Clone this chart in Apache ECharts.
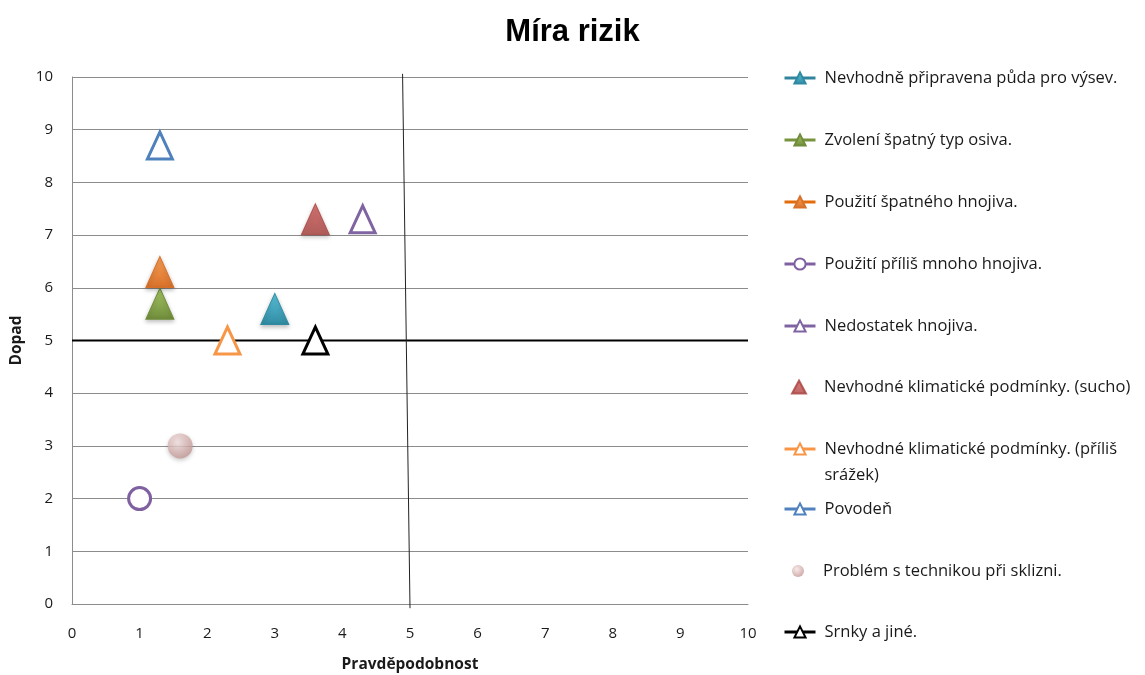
<!DOCTYPE html>
<html><head><meta charset="utf-8">
<script src="https://cdn.jsdelivr.net/npm/echarts@6/dist/echarts.min.js"></script>
<style>html,body{margin:0;padding:0;background:#fff}#c{width:1145px;height:675px}</style>
</head><body><div id="c"></div>
<script>
// ---- data ----
const seriesNames = [
  "Nevhodně připravena půda pro výsev.",
  "Zvolení špatný typ osiva.",
  "Použití špatného hnojiva.",
  "Použití příliš mnoho hnojiva.",
  "Nedostatek hnojiva.",
  "Nevhodné klimatické podmínky. (sucho)",
  "Nevhodné klimatické podmínky. (příliš srážek)",
  "Povodeň",
  "Problém s technikou při sklizni.",
  "Srnky a jiné."
];
const probability = [3.0, 1.3, 1.3, 1.0, 4.3, 3.6, 2.3, 1.3, 1.6, 3.6];
const impact      = [5.6, 5.7, 6.3, 2.0, 7.3, 7.3, 5.0, 8.7, 3.0, 5.0];
const xTicks = [0,1,2,3,4,5,6,7,8,9,10];
const yTicks = [0,1,2,3,4,5,6,7,8,9,10];
const hDivider = [[0, 5], [10, 5]];
const vDivider = [[4.89, 10.06], [5.0, -0.08]];

// ---- styles ----
const colors = ["#31849b","#77933c","#e46c0a","#7f60a0","#8064a2","#c0504d","#f79646","#4f81bd","#d9a9a7","#000000"];
const hollow = [false,false,false,true,true,false,true,true,false,true];
const shapes = ["triangle","triangle","triangle","circle","triangle","triangle","triangle","triangle","circle","triangle"];
const legendLine = [true,true,true,true,true,false,true,true,false,true];
const fillGrad = [
  ["#5bc4dc","#2f8aa1"],["#a8c866","#6f8c3a"],["#fba257","#d8702a"],null,null,
  ["#d65a57","#a8403d"],null,null,null,null
];
const legendCenters = [78,140,202,264,326,387,449,509,571,632];

const FONT = "'Open Sans', 'Noto Sans', sans-serif";
const LFS = 16.5;

const series = [];
const legends = [];
seriesNames.forEach((name, i) => {
  let itemStyle;
  if (hollow[i]) {
    itemStyle = {color: "#ffffff", borderColor: colors[i], borderWidth: 3};
  } else if (shapes[i] === "circle") {
    itemStyle = {color: {type:"radial", x:0.4, y:0.35, r:0.7, colorStops:[{offset:0,color:"#f6e4e3"},{offset:1,color:"#c19491"}]},
                 shadowColor:"rgba(0,0,0,0.25)", shadowBlur:4, shadowOffsetY:2};
  } else {
    itemStyle = {color: {type:"linear", x:0, y:0, x2:0, y2:1, colorStops:[{offset:0,color:fillGrad[i][0]},{offset:1,color:fillGrad[i][1]}]},
                 borderColor: fillGrad[i][1], borderWidth: 1,
                 shadowColor:"rgba(0,0,0,0.25)", shadowBlur:4, shadowOffsetY:2};
  }
  const isTri = shapes[i] === "triangle";
  const size = isTri ? (hollow[i] ? [25, 27] : [28, 31]) : (hollow[i] ? 22 : 25);
  series.push({
    name: name,
    type: legendLine[i] ? "line" : "scatter",
    data: [[probability[i], impact[i]]],
    symbol: shapes[i],
    symbolSize: size,
    showSymbol: true,
    itemStyle: itemStyle,
    lineStyle: {color: colors[i], width: 3},
    z: 5
  });
  const twoLine = name.indexOf("příliš srážek") >= 0;
  const small = !legendLine[i];
  const iw = small ? (shapes[i] === "circle" ? 12 : 14) : 31;
  const ih = small ? (shapes[i] === "circle" ? 12 : 13) : 14;
  const left = small ? 798 - iw / 2 : 783;
  const textPad = 823 - (left + iw + 5);
  legends.push({
    data: [name],
    orient: "vertical",
    left: left,
    top: legendCenters[i] - (twoLine ? 39 : 10),
    padding: 0,
    itemWidth: iw,
    itemHeight: ih,
    itemGap: 0,
    selectedMode: false,
    lineStyle: {width: 3},
    formatter: twoLine ? () => " \nNevhodné klimatické podmínky. (příliš\nsrážek)" : "{name}",
    textStyle: {fontFamily: FONT, fontSize: LFS, color: "#1a1a1a",
                lineHeight: twoLine ? 26 : 20, padding: [0,0,0,textPad]}
  });
});

series.push({
  type: "line", data: hDivider, symbol: "none", silent: true, clip: false,
  lineStyle: {color: "#000", width: 2}, z: 3
});
series.push({
  type: "line", data: vDivider, symbol: "none", silent: true, clip: false,
  lineStyle: {color: "#222", width: 1}, z: 3
});

const chart = echarts.init(document.getElementById("c"), null, {renderer: "canvas"});
chart.setOption({
  animation: false,
  backgroundColor: "#fff",
  title: {
    text: "Míra rizik", left: "center", top: 12,
    textStyle: {fontFamily: "'Liberation Sans', Arial, sans-serif", fontWeight: "bold", fontSize: 31, color: "#000"}
  },
  grid: {left: 72, top: 77, right: 397, bottom: 71, containLabel: false, outerBoundsMode: "none"},
  legend: legends,
  xAxis: {
    type: "value", min: xTicks[0], max: xTicks[xTicks.length-1], interval: 1,
    name: "Pravděpodobnost", nameLocation: "middle", nameGap: 53,
    nameTextStyle: {fontFamily: FONT, fontWeight: "bold", fontSize: 15.5, color: "#1a1a1a"},
    axisLine: {show: true, lineStyle: {color: "#8c8c8c", width: 1}},
    axisTick: {show: false},
    splitLine: {show: false},
    axisLabel: {fontFamily: FONT, fontSize: 15, color: "#1a1a1a", margin: 22}
  },
  yAxis: {
    type: "value", min: yTicks[0], max: yTicks[yTicks.length-1], interval: 1,
    name: "Dopad", nameLocation: "middle", nameGap: 45, nameRotate: 90,
    nameTextStyle: {fontFamily: FONT, fontWeight: "bold", fontSize: 15.5, color: "#1a1a1a"},
    axisLine: {show: true, lineStyle: {color: "#8c8c8c", width: 1}},
    axisTick: {show: false},
    splitLine: {show: true, lineStyle: {color: "#8c8c8c", width: 1}},
    axisLabel: {fontFamily: FONT, fontSize: 15, color: "#1a1a1a", margin: 19}
  },
  series: series
});
</script>
</body></html>
